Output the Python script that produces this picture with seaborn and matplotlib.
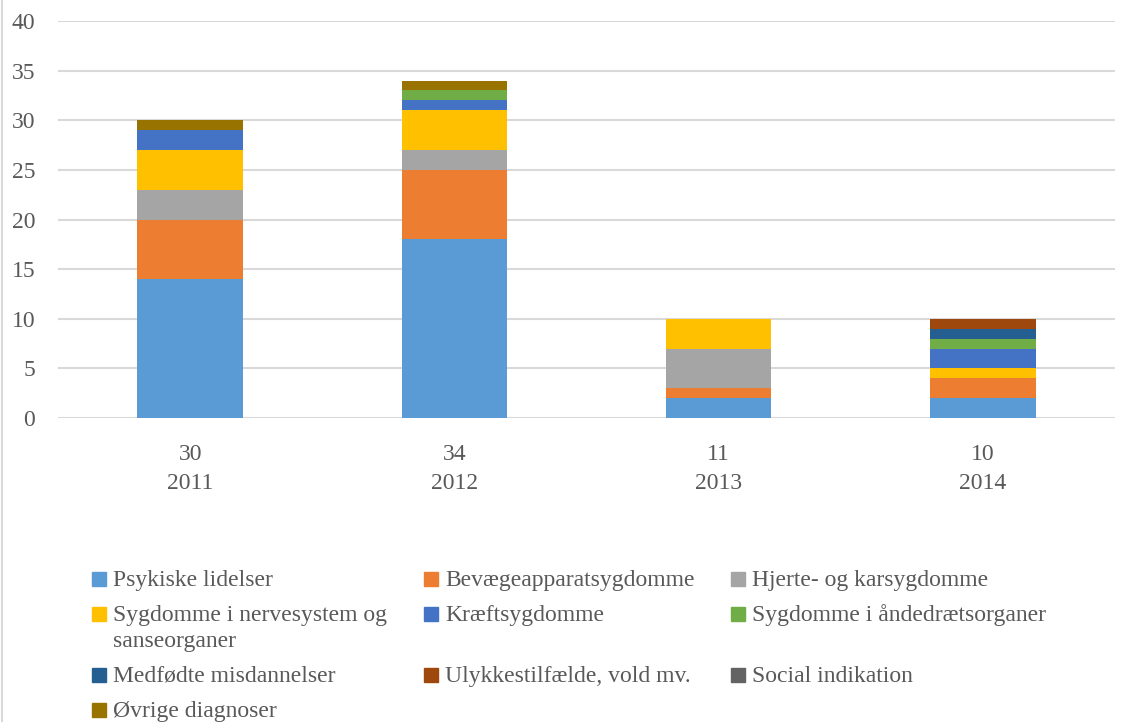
import numpy as np
import matplotlib
matplotlib.use("Agg")
import matplotlib.pyplot as plt
from matplotlib.patches import Rectangle
from matplotlib.lines import Line2D
import seaborn as sns

years = ['2011', '2012', '2013', '2014']
totals = ['30', '34', '11', '10']
categories = ['Psykiske lidelser', 'Bevægeapparatsygdomme', 'Hjerte- og karsygdomme',
              'Sygdomme i nervesystem og\nsanseorganer', 'Kræftsygdomme', 'Sygdomme i åndedrætsorganer',
              'Medfødte misdannelser', 'Ulykkestilfælde, vold mv.', 'Social indikation',
              'Øvrige diagnoser']
psykiske = [14, 18, 2, 2]
bevaege = [6, 7, 1, 2]
hjerte = [3, 2, 4, 0]
nerve = [4, 4, 3, 1]
kraeft = [2, 1, 0, 2]
aandedraet = [0, 1, 0, 1]
medfoedte = [0, 0, 0, 1]
ulykke = [0, 0, 0, 1]
social = [0, 0, 0, 0]
oevrige = [1, 1, 0, 0]
series = [psykiske, bevaege, hjerte, nerve, kraeft, aandedraet, medfoedte, ulykke, social, oevrige]
colors = ['#5B9BD5', '#ED7D31', '#A5A5A5', '#FFC000', '#4472C4', '#70AD47',
          '#255E91', '#9E480E', '#636363', '#997300']

sns.set_theme(style='white')
plt.rcParams['font.family'] = ['Liberation Serif', 'DejaVu Serif']
txt = '#595959'
W, H = 1128, 722

fig = plt.figure(figsize=(11.28, 7.22), dpi=100)
ax = fig.add_axes([58/W, 1-418/H, (1115-58)/W, (418-21)/H])

cum = np.cumsum(np.array(series), axis=0)
# draw cumulative heights from the top layer down so each layer shows its own slice
for i in range(len(series)-1, -1, -1):
    sns.barplot(x=years, y=cum[i], color=colors[i], width=0.4, saturation=1,
                linewidth=0, ax=ax, zorder=3)

ax.set_ylim(0, 40)
ax.set_xlim(-0.5, 3.5)
ax.set_yticks(range(0, 41, 5))
ax.yaxis.grid(True, color='#d9d9d9', linewidth=1.5, zorder=0)
ax.set_axisbelow(True)
for s in ax.spines.values():
    s.set_visible(False)
ax.set_xticks(range(4))
ax.set_xticklabels([t + '\n' + y for t, y in zip(totals, years)], linespacing=1.45)
ax.tick_params(axis='x', length=0, pad=19, labelsize=17, labelcolor=txt)
ax.tick_params(axis='y', length=0, pad=16.5, labelsize=17, labelcolor=txt)
ax.set_xlabel('')
ax.set_ylabel('')

# legend, laid out row by row like the original
col_x = [92, 424, 731]
row_y = [572, 607, 668, 703]
for k, (lab, c) in enumerate(zip(categories, colors)):
    r, cidx = divmod(k, 3)
    x0 = col_x[cidx]
    y0 = row_y[r]
    fig.patches.append(Rectangle((x0/W, 1-(y0+14)/H), 14/W, 14/H,
                                 transform=fig.transFigure, color=c, figure=fig))
    for j, line in enumerate(lab.split('\n')):
        fig.text((x0+21)/W, 1-(y0+14+26*j)/H, line, fontsize=17, color=txt,
                 ha='left', va='baseline')

fig.lines.append(Line2D([0.0015, 0.0015], [0, 1], transform=fig.transFigure,
                        color='#d9d9d9', linewidth=1.5))

fig.savefig('out.png', dpi=100)
